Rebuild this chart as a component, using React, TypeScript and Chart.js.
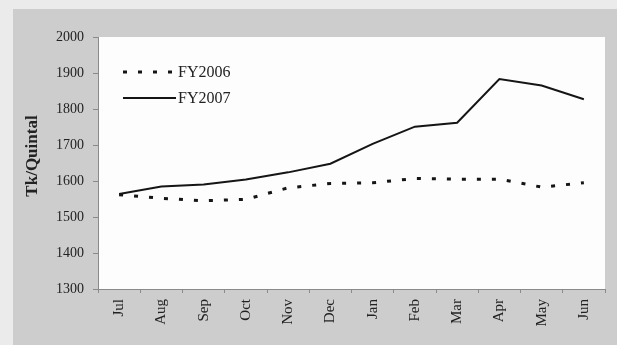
import React, { useEffect, useRef } from "react";
import { Chart, registerables } from "chart.js";

Chart.register(...registerables);

const months = ["Jul", "Aug", "Sep", "Oct", "Nov", "Dec", "Jan", "Feb", "Mar", "Apr", "May", "Jun"];
const fy2006 = [1562, 1552, 1545, 1549, 1581, 1593, 1595, 1607, 1605, 1605, 1583, 1595];
const fy2007 = [1564, 1585, 1590, 1604, 1624, 1648, 1703, 1751, 1762, 1883, 1865, 1827];
const seriesNames = ["FY2006", "FY2007"];
const yTitle = "Tk/Quintal";
const yMin = 1300;
const yMax = 2000;
const yStep = 100;

const FONT = "'Liberation Serif', 'Times New Roman', serif";

const backgroundPlugin = {
  id: "bgPanel",
  beforeDraw(chart: any) {
    const { ctx, width, height, chartArea } = chart;
    ctx.save();
    ctx.fillStyle = "#ebebeb";
    ctx.fillRect(0, 0, width, height);
    ctx.fillStyle = "#cdcdcd";
    ctx.fillRect(13, 9, width - 13, height - 9);
    ctx.fillStyle = "#fdfdfd";
    ctx.fillRect(chartArea.left, chartArea.top, chartArea.right - chartArea.left, chartArea.bottom - chartArea.top);
    ctx.restore();
  },
};

const overlayPlugin = {
  id: "overlay",
  afterDraw(chart: any) {
    const { ctx } = chart;
    ctx.save();
    ctx.translate(33, 156);
    ctx.rotate(-Math.PI / 2);
    ctx.font = `bold 17px ${FONT}`;
    ctx.fillStyle = "#222";
    ctx.textAlign = "center";
    ctx.textBaseline = "middle";
    ctx.fillText(yTitle, 0, 0);
    ctx.restore();

    const rows = [72, 98];
    chart.data.datasets.forEach((ds: any, i: number) => {
      const y = rows[i];
      ctx.save();
      ctx.strokeStyle = ds.borderColor;
      ctx.lineWidth = ds.borderWidth;
      ctx.setLineDash(ds.borderDash || []);
      ctx.beginPath();
      ctx.moveTo(123, y);
      ctx.lineTo(176, y);
      ctx.stroke();
      ctx.setLineDash([]);
      ctx.font = `16px ${FONT}`;
      ctx.fillStyle = "#222";
      ctx.textAlign = "left";
      ctx.textBaseline = "middle";
      ctx.fillText(ds.label, 178, y + 1);
      ctx.restore();
    });
  },
};

export default function App() {
  const ref = useRef<HTMLCanvasElement>(null);

  useEffect(() => {
    document.body.style.margin = "0";
    const canvas = ref.current;
    if (!canvas) return;
    const chart = new Chart(canvas, {
      type: "line",
      data: {
        labels: months,
        datasets: [
          {
            label: seriesNames[0],
            data: fy2006,
            borderColor: "#151515",
            borderWidth: 3,
            borderDash: [4, 11],
            borderCapStyle: "butt",
            pointRadius: 0,
            tension: 0,
            fill: false,
          },
          {
            label: seriesNames[1],
            data: fy2007,
            borderColor: "#151515",
            borderWidth: 2,
            pointRadius: 0,
            tension: 0,
            fill: false,
          },
        ],
      },
      options: {
        responsive: false,
        animation: false,
        layout: { padding: { top: 37, right: 12, left: 0, bottom: 0 } },
        plugins: {
          legend: { display: false },
          tooltip: { enabled: false },
        },
        scales: {
          x: {
            offset: true,
            grid: {
              offset: true,
              drawOnChartArea: false,
              drawTicks: true,
              tickLength: 4,
              color: "#8a8a8a",
            },
            border: { color: "#8a8a8a", width: 1 },
            ticks: {
              minRotation: 90,
              maxRotation: 90,
              padding: 6,
              color: "#222",
              font: { family: FONT, size: 15 },
            },
            afterFit(scale: any) {
              scale.height = 56;
            },
          },
          y: {
            min: yMin,
            max: yMax,
            grid: {
              drawOnChartArea: false,
              drawTicks: true,
              tickLength: 5,
              color: "#8a8a8a",
            },
            border: { color: "#8a8a8a", width: 1 },
            ticks: {
              stepSize: yStep,
              padding: 9,
              color: "#222",
              font: { family: FONT, size: 14 },
              callback: (v: any) => String(v),
            },
            afterFit(scale: any) {
              scale.width = 98;
            },
          },
        },
      },
      plugins: [backgroundPlugin, overlayPlugin],
    });
    return () => chart.destroy();
  }, []);

  return (
    <div style={{ width: 617, height: 345 }}>
      <canvas ref={ref} width={617} height={345} style={{ display: "block" }} />
    </div>
  );
}
